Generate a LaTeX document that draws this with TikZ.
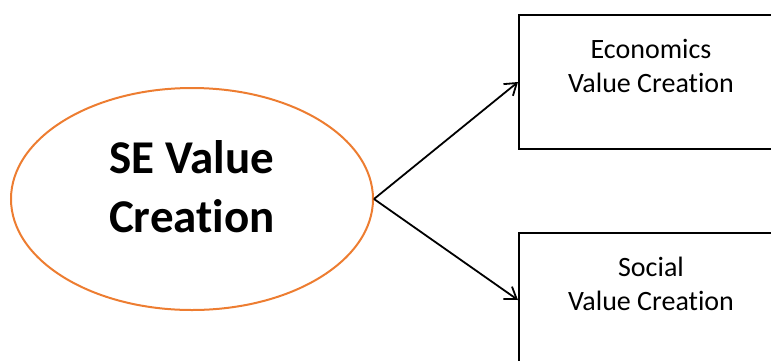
\documentclass[tikz,border=0pt]{standalone}
\usepackage{fontspec}
\setmainfont{Carlito}[Ligatures=NoCommon]
\usetikzlibrary{shapes.geometric,arrows.meta}
\definecolor{ovalorange}{RGB}{237,125,49}
\tikzstyle{block} = [draw,line width=2pt,minimum width=264pt,minimum height=134pt]
\tikzstyle{blocktext} = [align=center,inner sep=0pt,anchor=north,font=\fontsize{28}{34}\selectfont]

\begin{document}
\begin{tikzpicture}[x=1pt,y=-1pt,>={Straight Barb[length=11pt,width=15pt]}]
\tikzstyle{oval} = [ellipse,draw=ovalorange,line width=2pt,minimum width=362pt,minimum height=222pt]
\tikzstyle{ovaltext} = [align=center,inner sep=0pt,font=\bfseries\fontsize{47}{59}\selectfont]
\clip (0,0) rectangle (771,360);
\node[oval] at (192,199) (se) {};
\node[ovaltext] at ([yshift=12.5pt]se.center) (se text) {SE Value\\Creation};
\node[block] at (651,82) (econ) {};
\node[block] at (651,300) (social) {};
\node[blocktext] at ([yshift=-25pt]econ.north) (econ text) {Economics\\Value Creation};
\node[blocktext] at ([yshift=-25pt]social.north) (social text) {Social\\Value Creation};
\draw [->,line width=1.8pt] (se.east) -- (econ.west);
\draw [->,line width=1.8pt] (se.east) -- (social.west);
\end{tikzpicture}
\end{document}
